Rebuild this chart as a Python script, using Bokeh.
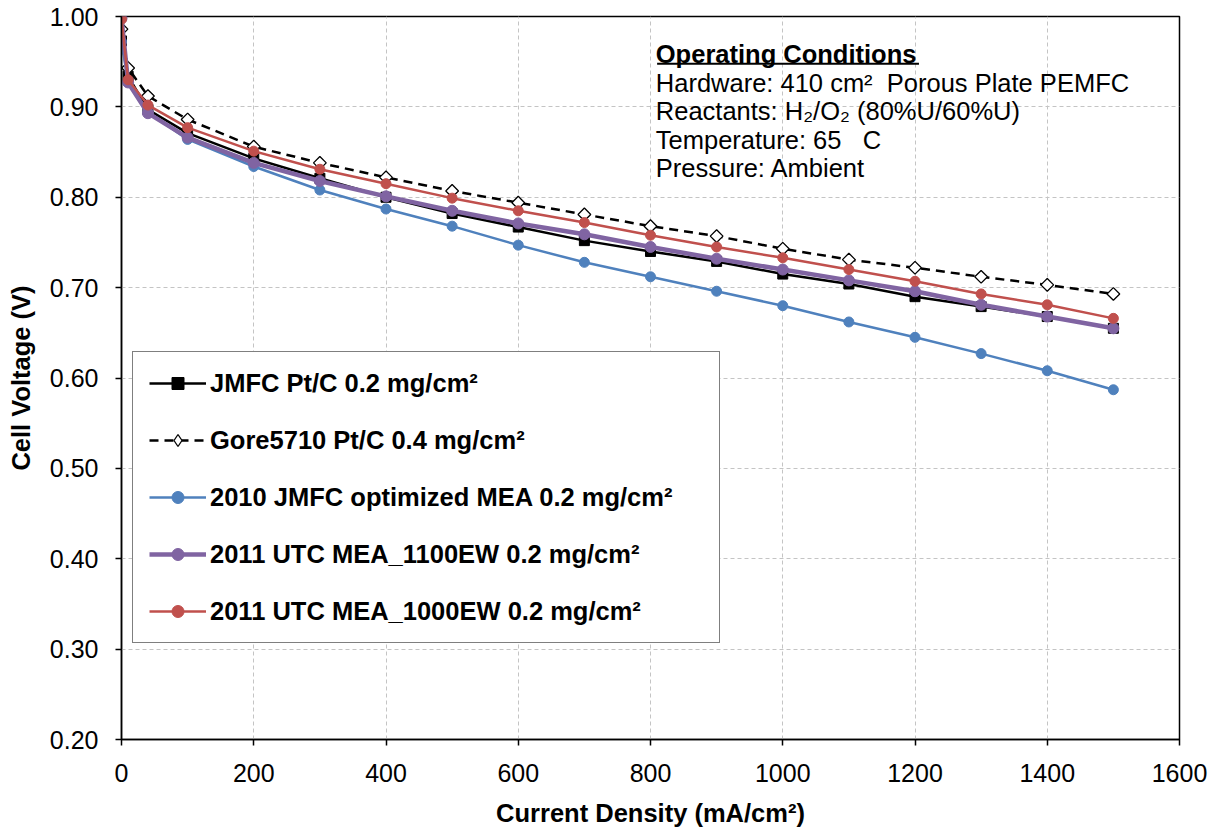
from bokeh.plotting import figure
from bokeh.models import (Range1d, FixedTicker, PrintfTickFormatter, Legend,
                          LegendItem, Label)
from bokeh.embed import file_html
from bokeh.resources import INLINE

# Polarization curves, 410 cm2 porous plate PEMFC
current = [0, 10, 40, 100, 200, 300, 400, 500, 600, 700, 800, 900,
           1000, 1100, 1200, 1300, 1400, 1500]

jmfc_02 = [0.973, 0.934, 0.897, 0.871, 0.843, 0.821, 0.800, 0.782, 0.767,
           0.752, 0.740, 0.729, 0.715, 0.704, 0.690, 0.679, 0.668, 0.655]
gore_04 = [0.986, 0.943, 0.912, 0.886, 0.856, 0.838, 0.822, 0.807, 0.794,
           0.781, 0.768, 0.757, 0.743, 0.731, 0.722, 0.712, 0.703, 0.693]
jmfc_2010 = [0.972, 0.928, 0.894, 0.864, 0.834, 0.808, 0.787, 0.768, 0.747,
             0.728, 0.712, 0.696, 0.680, 0.662, 0.645, 0.627, 0.608, 0.587]
utc_1100ew = [0.998, 0.927, 0.893, 0.866, 0.838, 0.818, 0.801, 0.785, 0.771,
              0.759, 0.745, 0.732, 0.720, 0.708, 0.696, 0.681, 0.668, 0.655]
utc_1000ew = [0.997, 0.930, 0.902, 0.877, 0.851, 0.831, 0.815, 0.799, 0.785,
              0.772, 0.758, 0.745, 0.733, 0.720, 0.707, 0.693, 0.681, 0.666]

series_names = ["JMFC Pt/C 0.2 mg/cm²",
                "Gore5710 Pt/C 0.4 mg/cm²",
                "2010 JMFC optimized MEA 0.2 mg/cm²",
                "2011 UTC MEA_1100EW 0.2 mg/cm²",
                "2011 UTC MEA_1000EW 0.2 mg/cm²"]

x_ticks = [0, 200, 400, 600, 800, 1000, 1200, 1400, 1600]
y_ticks = [0.2, 0.3, 0.4, 0.5, 0.6, 0.7, 0.8, 0.9, 1.0]

NBSP = "\u00a0"
conditions_title = "Operating Conditions"
conditions = ["Hardware: 410 cm²" + NBSP * 2 + "Porous Plate PEMFC",
              "Reactants: H₂/O₂ (80%U/60%U)",
              "Temperature: 65" + NBSP * 3 + "C",
              "Pressure: Ambient"]

FONT = "Liberation Sans"
TEXT_SIZE = "25.5px"

p = figure(width=1212, height=830, output_backend="svg", toolbar_location=None,
           x_range=Range1d(0, 1600), y_range=Range1d(0.2, 1.0),
           min_border_left=121, min_border_right=33,
           min_border_top=16, min_border_bottom=91)
p.background_fill_color = "white"
p.border_fill_color = "white"
p.outline_line_color = "black"
p.outline_line_width = 1.5

# axes
for ax in (p.xaxis[0], p.yaxis[0]):
    ax.axis_line_color = "black"
    ax.axis_line_width = 1.5
    ax.major_tick_line_color = "black"
    ax.major_tick_line_width = 1.5
    ax.major_tick_in = 0
    ax.major_tick_out = 6
    ax.minor_tick_line_color = None
    ax.major_label_text_font = FONT
    ax.major_label_text_font_size = "25px"
    ax.major_label_text_color = "black"
    ax.axis_label_text_font = FONT
    ax.axis_label_text_font_size = TEXT_SIZE
    ax.axis_label_text_font_style = "bold"
    ax.axis_label_text_color = "black"

p.xaxis.ticker = FixedTicker(ticks=x_ticks)
p.yaxis.ticker = FixedTicker(ticks=y_ticks)
p.yaxis.formatter = PrintfTickFormatter(format="%.2f")
p.xaxis.axis_label = "Current Density (mA/cm²)"
p.yaxis.axis_label = "Cell Voltage (V)"
p.xaxis.major_label_standoff = 18
p.yaxis.major_label_standoff = 17
p.xaxis.axis_label_standoff = 14
p.yaxis.axis_label_standoff = 12

p.xgrid.ticker = FixedTicker(ticks=x_ticks)
p.ygrid.ticker = FixedTicker(ticks=y_ticks)
for g in (p.xgrid[0], p.ygrid[0]):
    g.grid_line_color = "#c4c4c4"
    g.grid_line_width = 1
    g.grid_line_dash = "4 3"

# series
items = []

l1 = p.line(current, jmfc_02, line_color="black", line_width=2.5)
m1 = p.scatter(current, jmfc_02, marker="square", size=10,
               fill_color="black", line_color="black")
items.append(LegendItem(label=series_names[0], renderers=[l1, m1]))

l2 = p.line(current, gore_04, line_color="black", line_width=2.5,
            line_dash="9 6")
# plain diamonds serve as the legend swatch (legend glyphs ignore angle);
# the rotated open squares drawn on top cover them completely
k2 = p.scatter(current, gore_04, marker="diamond", size=11,
               fill_color="white", line_color="black", line_width=1.3)
m2 = p.scatter(current, gore_04, marker="square", size=9, angle=0.785398,
               fill_color="white", line_color="black", line_width=1.3)
items.append(LegendItem(label=series_names[1], renderers=[l2, k2]))

l3 = p.line(current, jmfc_2010, line_color="#4f81bd", line_width=2.5)
m3 = p.scatter(current, jmfc_2010, marker="circle", size=10,
               fill_color="#4f81bd", line_color="#4f81bd")
items.append(LegendItem(label=series_names[2], renderers=[l3, m3]))

l4 = p.line(current, utc_1100ew, line_color="#8064a2", line_width=4.5)
m4 = p.scatter(current, utc_1100ew, marker="circle", size=11,
               fill_color="#8064a2", line_color="#8064a2")
items.append(LegendItem(label=series_names[3], renderers=[l4, m4]))

l5 = p.line(current, utc_1000ew, line_color="#c0504d", line_width=2.5)
m5 = p.scatter(current, utc_1000ew, marker="circle", size=10,
               fill_color="#c0504d", line_color="#c0504d")
items.append(LegendItem(label=series_names[4], renderers=[l5, m5]))

legend = Legend(items=items, location=(11, 96),
                label_text_font=FONT, label_text_font_size=TEXT_SIZE,
                label_text_font_style="bold", label_text_color="black",
                label_height=30, glyph_height=30, glyph_width=57,
                label_standoff=4, label_width=493, spacing=27, padding=16,
                border_line_color="black", border_line_width=1.5,
                background_fill_color="white", background_fill_alpha=1.0,
                margin=0)
p.add_layout(legend, "center")

# operating conditions block
p.add_layout(Label(x=808, y=0.9588, text=conditions_title,
                   text_font=FONT, text_font_size=TEXT_SIZE,
                   text_font_style="bold", text_color="black",
                   text_baseline="middle"))
p.segment(x0=[810], y0=[0.9477], x1=[1206], y1=[0.9477],
          line_color="black", line_width=2)
for line_text, yy in zip(conditions, [0.9267, 0.8951, 0.8636, 0.832]):
    p.add_layout(Label(x=808, y=yy, text=line_text,
                       text_font=FONT, text_font_size=TEXT_SIZE,
                       text_color="black", text_baseline="middle"))

open("out.html", "w").write(file_html(p, INLINE))
